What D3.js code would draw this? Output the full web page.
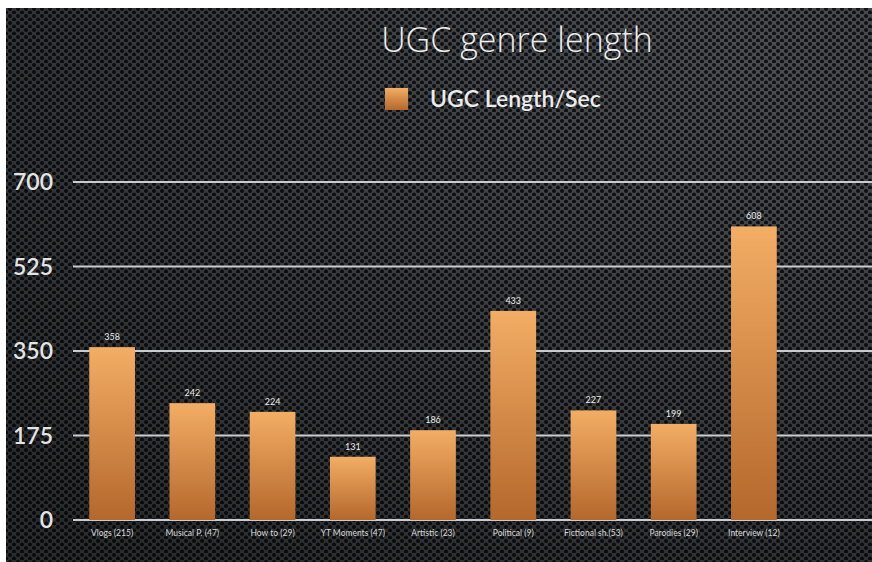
<!DOCTYPE html>
<html>
<head>
<meta charset="utf-8">
<script src="https://cdn.jsdelivr.net/npm/d3@7"></script>
<style>
  html, body { margin: 0; padding: 0; background: #fff; }
  svg { display: block; }
</style>
</head>
<body>
<svg id="chart" width="872" height="562"></svg>
<script>
// data
var categories = ["Vlogs (215)", "Musical P. (47)", "How to (29)", "YT Moments (47)", "Artistic (23)",
                  "Political (9)", "Fictional sh.(53)", "Parodies (29)", "Interview (12)"];
var lengths = [358, 242, 224, 131, 186, 433, 227, 199, 608];
var yTicks = [0, 175, 350, 525, 700];
var seriesName = "UGC Length/Sec";

var width = 872, height = 562;
var svg = d3.select("#chart");
var defs = svg.append("defs");

// perforated metal background
var pat = defs.append("pattern").attr("id", "dots")
    .attr("width", 8).attr("height", 7).attr("patternUnits", "userSpaceOnUse");
pat.append("rect").attr("width", 8).attr("height", 7).attr("fill", "#4b4e52");
pat.append("circle").attr("cx", 2).attr("cy", 2).attr("r", 2.0).attr("fill", "#0e1012");
pat.append("circle").attr("cx", 6).attr("cy", 5.5).attr("r", 2.0).attr("fill", "#0e1012");

var shade = defs.append("radialGradient").attr("id", "shade")
    .attr("cx", 0.85).attr("cy", 0.1).attr("r", 1.1);
shade.append("stop").attr("offset", "0%").attr("stop-color", "#000").attr("stop-opacity", 0);
shade.append("stop").attr("offset", "100%").attr("stop-color", "#000").attr("stop-opacity", 0.45);

var barGrad = defs.append("linearGradient").attr("id", "barGrad")
    .attr("x1", 0).attr("y1", 0).attr("x2", 0).attr("y2", 1);
barGrad.append("stop").attr("offset", "0%").attr("stop-color", "#f3ad64");
barGrad.append("stop").attr("offset", "100%").attr("stop-color", "#b4682c");

svg.append("rect").attr("x", 6).attr("y", 8).attr("width", width - 6).attr("height", height - 8)
    .attr("fill", "url(#dots)");
svg.append("rect").attr("x", 6).attr("y", 8).attr("width", width - 6).attr("height", height - 8)
    .attr("fill", "url(#shade)");

// scales
var x = d3.scaleBand().domain(categories).range([72, 794]).paddingInner(0.43).paddingOuter(0.215);
var y = d3.scaleLinear().domain([0, 700]).range([520, 182]);

// gridlines
svg.append("g").selectAll("line").data(yTicks).enter().append("line")
    .attr("x1", 73).attr("x2", width)
    .attr("y1", d => y(d)).attr("y2", d => y(d))
    .attr("stroke", "#c8cbcf").attr("stroke-width", 2);

// y labels
svg.append("g").selectAll("text").data(yTicks).enter().append("text")
    .attr("x", 53).attr("y", d => y(d) + 8)
    .attr("text-anchor", "end")
    .attr("font-family", "Lato, 'Open Sans', sans-serif")
    .attr("font-weight", 600)
    .attr("font-size", 23)
    .attr("fill", "#e4e4e4")
    .text(d => d);

// bars
svg.append("g").selectAll("rect").data(lengths).enter().append("rect")
    .attr("x", (d, i) => x(categories[i]))
    .attr("y", d => y(d))
    .attr("width", x.bandwidth())
    .attr("height", d => y(0) - y(d))
    .attr("fill", "url(#barGrad)");

// value labels
svg.append("g").selectAll("text").data(lengths).enter().append("text")
    .attr("x", (d, i) => x(categories[i]) + x.bandwidth() / 2)
    .attr("y", d => y(d) - 7)
    .attr("text-anchor", "middle")
    .attr("font-family", "Lato, sans-serif")
    .attr("font-size", 9)
    .attr("fill", "#e8e8e8")
    .text(d => d);

// category labels
svg.append("g").selectAll("text").data(categories).enter().append("text")
    .attr("x", d => x(d) + x.bandwidth() / 2)
    .attr("y", 536)
    .attr("text-anchor", "middle")
    .attr("font-family", "Lato, sans-serif")
    .attr("font-size", 8.5)
    .attr("fill", "#d8d8d8")
    .text(d => d);

// title
svg.append("text")
    .attr("x", 517).attr("y", 52)
    .attr("text-anchor", "middle")
    .attr("font-family", "'Open Sans', sans-serif")
    .attr("font-weight", 300)
    .attr("font-size", 34)
    .attr("fill", "#ececec")
    .text("UGC genre length");

// legend
svg.append("rect").attr("x", 385).attr("y", 88).attr("width", 23).attr("height", 22)
    .attr("fill", "url(#barGrad)");
svg.append("text")
    .attr("x", 430).attr("y", 107)
    .attr("font-family", "Lato, sans-serif")
    .attr("font-weight", 600)
    .attr("font-size", 23)
    .attr("fill", "#ececec")
    .text(seriesName);
</script>
</body>
</html>
